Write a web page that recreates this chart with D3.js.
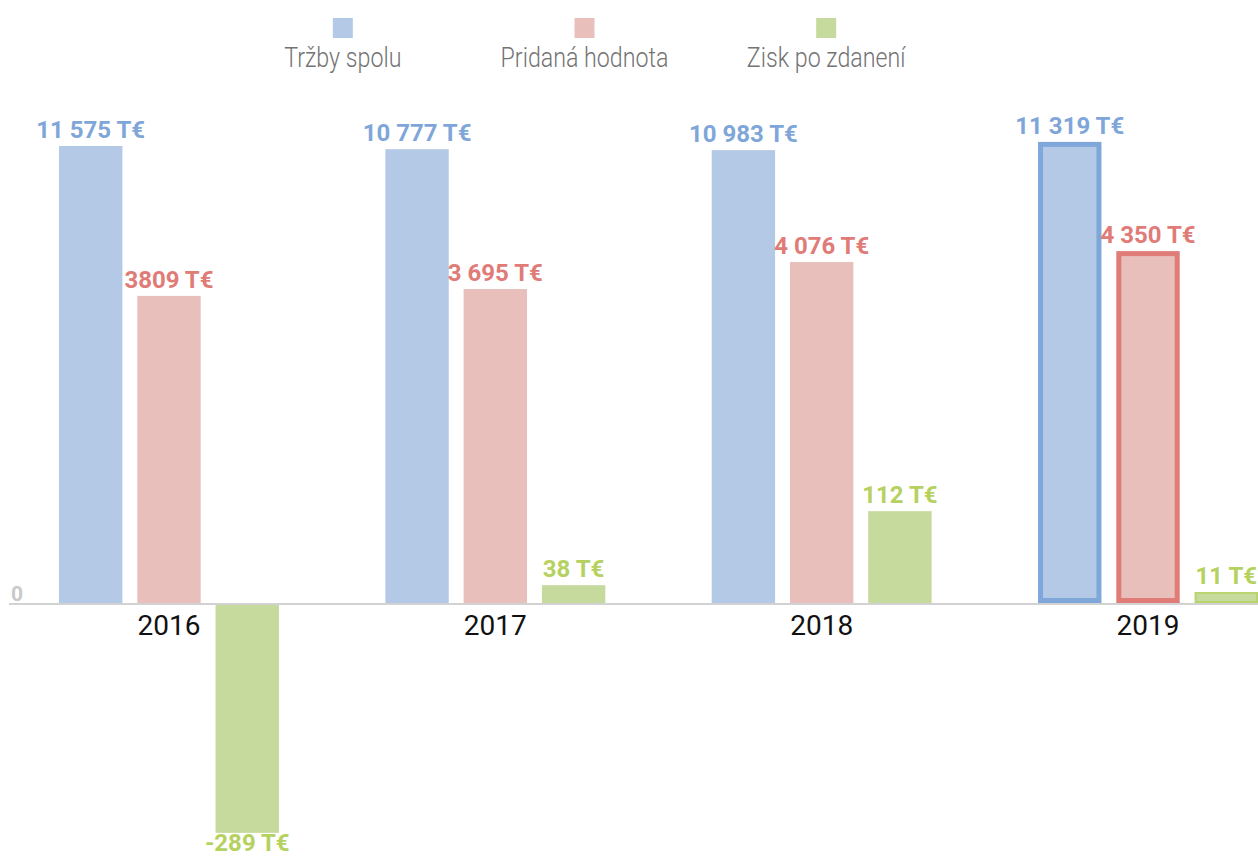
<!DOCTYPE html>
<html>
<head>
<meta charset="utf-8">
<script src="https://cdn.jsdelivr.net/npm/d3@7"></script>
<style>
  html, body { margin: 0; padding: 0; background: #fff; }
  svg { display: block; font-family: Roboto, "Noto Sans", sans-serif; }
</style>
</head>
<body>
<div id="chart"></div>
<script>
// data
const years = ["2016", "2017", "2018", "2019"];
const seriesNames = ["Tržby spolu", "Pridaná hodnota", "Zisk po zdanení"];

// printed values (T€)
const trzbyLabels = ["11 575 T€", "10 777 T€", "10 983 T€", "11 319 T€"];
const pridanaLabels = ["3809 T€", "3 695 T€", "4 076 T€", "4 350 T€"];
const ziskLabels = ["-289 T€", "38 T€", "112 T€", "11 T€"];

// bar heights in the reference are not proportional to the printed values,
// so they are read off as a relative index (tallest blue bar ~ 100)
const trzbyHeight = [100, 99.3, 99.1, 100.9];
const pridanaHeight = [67.2, 68.7, 74.6, 77.0];
const ziskHeight = [-50.3, 3.9, 20.1, 2.4];

// the last year is drawn with an outline
const highlightYear = "2019";

const fills = ["#b4c9e6", "#e8bfbb", "#c6da9e"];
const labelColors = ["#7fa6d9", "#e07b78", "#b5d160"];
const strokes = ["#80a7da", "#e07c78", "#bad46c"];
const strokeWidths = [5, 5, 2];

function BuildChart() {
    const width = 1258;
    const height = 857;
    const margin = { left: 59, right: 0 };
    const baseY = 603;

    const svg = d3.select("#chart").append("svg")
        .attr("width", width)
        .attr("height", height);

    const x = d3.scaleBand()
        .domain(years)
        .range([margin.left, width - margin.right])
        .paddingInner(0.326)
        .paddingOuter(0);

    const xs = d3.scaleBand()
        .domain(d3.range(seriesNames.length))
        .range([0, x.bandwidth()])
        .paddingInner(0.19)
        .paddingOuter(0);

    const y = d3.scaleLinear()
        .domain([0, 100])
        .range([baseY, 146]);

    const heights = [trzbyHeight, pridanaHeight, ziskHeight];
    const labels = [trzbyLabels, pridanaLabels, ziskLabels];

    const rows = [];
    years.forEach((yr, i) => {
        seriesNames.forEach((s, k) => {
            rows.push({ year: yr, k: k, v: heights[k][i], label: labels[k][i] });
        });
    });

    // legend
    const lx = d3.scaleBand()
        .domain(seriesNames)
        .range([222, 947]);
    const legend = svg.append("g")
        .selectAll("g")
        .data(seriesNames)
        .enter()
        .append("g")
        .attr("transform", d => `translate(${lx(d) + lx.bandwidth() / 2},0)`);
    legend.append("rect")
        .attr("x", -10)
        .attr("y", 18)
        .attr("width", 20)
        .attr("height", 20)
        .attr("fill", (d, i) => fills[i]);
    legend.append("text")
        .attr("transform", "translate(0,67) scale(0.86,1)")
        .attr("text-anchor", "middle")
        .style("font-size", "27px")
        .style("font-weight", 300)
        .attr("fill", "#737373")
        .text(d => d);

    // bars
    const bars = svg.append("g")
        .selectAll("g")
        .data(rows)
        .enter()
        .append("g")
        .attr("transform", d => `translate(${x(d.year) + xs(d.k)},0)`);

    bars.each(function (d) {
        const g = d3.select(this);
        const w = xs.bandwidth();
        const top = Math.min(y(d.v), y(0));
        const h = Math.abs(y(d.v) - y(0));
        const neg = d.v < 0;
        if (d.year === highlightYear) {
            const sw = strokeWidths[d.k];
            g.append("rect")
                .attr("x", sw / 2)
                .attr("y", top + sw / 2)
                .attr("width", w - sw)
                .attr("height", Math.max(0, h - sw))
                .attr("fill", fills[d.k])
                .attr("stroke", strokes[d.k])
                .attr("stroke-width", sw);
        } else {
            g.append("rect")
                .attr("x", 0)
                .attr("y", neg ? top + 2 : top)
                .attr("width", w)
                .attr("height", neg ? h - 2 : h)
                .attr("fill", fills[d.k]);
        }
        g.append("text")
            .attr("x", w / 2)
            .attr("y", neg ? top + h + 18 : top - 8)
            .attr("text-anchor", "middle")
            .style("font-size", "24px")
            .style("font-weight", 700)
            .attr("fill", labelColors[d.k])
            .text(d.label);
    });

    // zero line
    svg.append("line")
        .attr("x1", 9)
        .attr("x2", width)
        .attr("y1", baseY + 1)
        .attr("y2", baseY + 1)
        .attr("stroke", "#d2d2d2")
        .attr("stroke-width", 2);

    svg.append("text")
        .attr("x", 11)
        .attr("y", baseY - 2)
        .style("font-size", "21px")
        .style("font-weight", 700)
        .attr("fill", "#c9c9c9")
        .text("0");

    // year labels
    svg.append("g")
        .selectAll("text")
        .data(years)
        .enter()
        .append("text")
        .attr("x", d => x(d) + x.bandwidth() / 2)
        .attr("y", 635)
        .attr("text-anchor", "middle")
        .style("font-size", "28px")
        .attr("fill", "#111")
        .text(d => d);
}

BuildChart();
</script>
</body>
</html>
